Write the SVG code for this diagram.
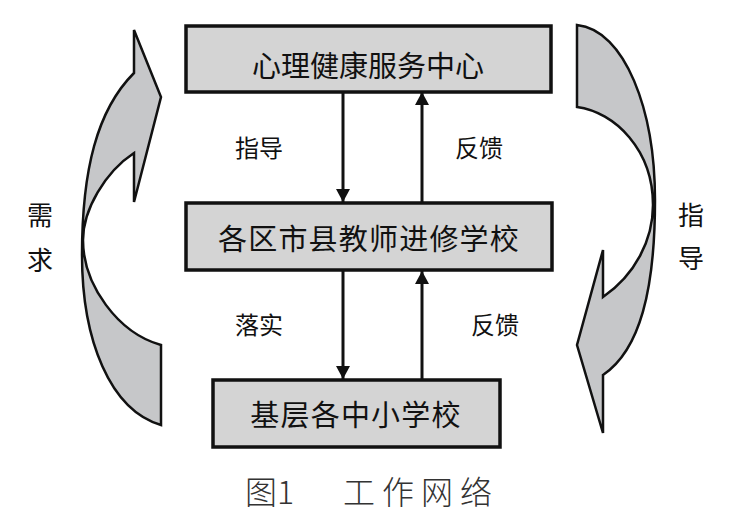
<svg xmlns="http://www.w3.org/2000/svg" width="732" height="522" viewBox="0 0 732 522">
  <style>
    .box { fill: #d4d4d4; stroke: #111; stroke-width: 3.5; }
    .big { font-family: "Noto Sans CJK SC", "Noto Sans", sans-serif; font-size: 29px; fill: #111; text-anchor: middle; }
    .lbl { font-family: "Noto Sans CJK SC", "Noto Sans", sans-serif; font-size: 24px; fill: #111; text-anchor: middle; }
    .side { font-family: "Noto Sans CJK SC", "Noto Sans", sans-serif; font-size: 26px; fill: #111; text-anchor: middle; }
    .cap { font-family: "Noto Sans CJK SC", "Noto Sans", sans-serif; font-size: 32px; fill: #333; font-weight: 300; }
    .conn { stroke: #111; stroke-width: 3; fill: none; marker-end: url(#ah); }
    .curve { fill: #c6c7c9; stroke: #111; stroke-width: 2.5; stroke-linejoin: miter; }
  </style>
  <defs>
    <marker id="ah" markerUnits="userSpaceOnUse" markerWidth="13" markerHeight="14" refX="13" refY="7" orient="auto">
      <path d="M0,0 L13,7 L0,14 Z" fill="#111"/>
    </marker>
  </defs>
  <rect width="732" height="522" fill="#fff"/>

  <g id="left-arrow">
    <path class="curve" d="M134,30 L161,97 L134,202 L134,153 C105,172 83,210 83,240 C83,285 118,333 161,345 L161,425 C110,410 82,340 82,255 C82,170 97,110 134,73 Z"/>
    <text class="side" x="40" y="225">需</text>
    <text class="side" x="40" y="270">求</text>
  </g>

  <g id="right-arrow">
    <path class="curve" d="M577,25 C625,30 655,110 655,200 C655,290 640,350 603,375 L603,433 L577,345 L603,250 L603,297 C635,275 653,240 653,205 C653,150 615,112 577,107 Z"/>
    <text class="side" x="691" y="225">指</text>
    <text class="side" x="691" y="268">导</text>
  </g>

  <g id="center">
    <rect class="box" x="186" y="26" width="365" height="66"/>
    <text class="big" x="368" y="77">心理健康服务中心</text>
  </g>
  <g id="bureau">
    <rect class="box" x="186" y="203" width="366" height="67"/>
    <text class="big" x="369" y="250" letter-spacing="1.2">各区市县教师进修学校</text>
  </g>
  <g id="schools">
    <rect class="box" x="213" y="380" width="287" height="67"/>
    <text class="big" x="356" y="426" letter-spacing="1.2">基层各中小学校</text>
  </g>

  <g id="connectors">
    <line class="conn" x1="343" y1="92" x2="343" y2="202"/>
    <line class="conn" x1="422" y1="202" x2="422" y2="92"/>
    <line class="conn" x1="343" y1="271" x2="343" y2="379"/>
    <line class="conn" x1="422" y1="379" x2="422" y2="271"/>
    <text class="lbl" x="259" y="157">指导</text>
    <text class="lbl" x="479" y="157">反馈</text>
    <text class="lbl" x="259" y="334">落实</text>
    <text class="lbl" x="495" y="334">反馈</text>
  </g>

  <g id="caption">
    <text class="cap" x="245" y="504">图1</text>
    <text class="cap" x="343" y="504" letter-spacing="7">工作网络</text>
  </g>
</svg>
